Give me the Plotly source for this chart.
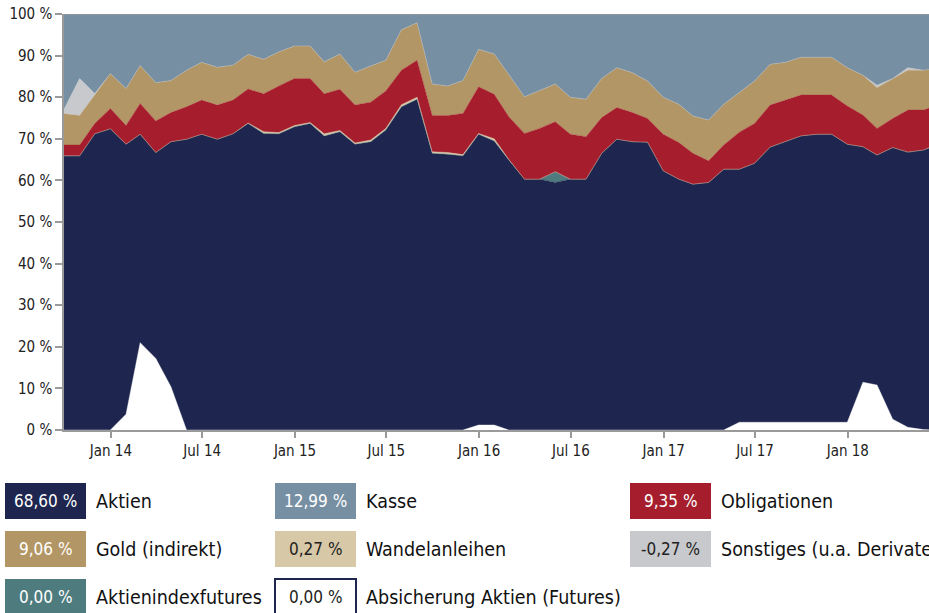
import plotly.graph_objects as go
import pandas as pd

# ---------------- data (shares in %) ----------------
dates = pd.date_range("2013-09-30", periods=58, freq="ME")

aktien = [65.9, 65.9, 71.2, 72.4, 68.7, 71.1, 66.7, 69.3, 69.9, 71.1,
          69.9, 71.2, 73.7, 71.3, 71.2, 72.9, 73.7, 70.7, 71.7, 68.7,
          69.3, 72.1, 77.7, 79.5, 66.5, 66.3, 65.9, 71.1, 69.5, 64.9,
          60.3, 60.3, 59.5, 60.3, 60.3, 66.5, 69.9, 69.3, 69.2, 62.3,
          60.3, 59.1, 59.5, 62.7, 62.7, 64.1, 68.0, 69.3, 70.7, 71.1,
          71.1, 68.7, 68.1, 66.1, 67.9, 66.8, 67.3, 68.6]
aktienindexfutures = [0] * 32 + [2.6] + [0] * 25
wandelanleihen = [0, 0, 0, 0, 0, 0, 0, 0, 0, 0,
                  0, 0, 0.1, 0.4, 0.3, 0.3, 0.2, 0.5, 0.3, 0.3,
                  0.4, 0.4, 0.5, 0.5, 0.4, 0.4, 0.3, 0.2, 0.5, 0.1,
                  0, 0, 0, 0, 0, 0, 0, 0, 0, 0,
                  0, 0, 0, 0, 0, 0, 0, 0, 0, 0,
                  0, 0, 0, 0, 0, 0, 0, 0.27]
obligationen = [2.6, 2.6, 2.5, 4.9, 4.5, 7.4, 7.6, 7.0, 7.8, 8.2,
                8.2, 8.1, 8.2, 9.1, 11.2, 11.3, 10.6, 9.6, 9.9, 9.1,
                9.1, 9.0, 8.3, 8.9, 8.7, 8.9, 9.9, 11.2, 10.7, 10.3,
                11.0, 12.2, 12.0, 10.8, 10.2, 8.6, 7.6, 7.0, 5.7, 8.8,
                8.8, 7.4, 5.2, 5.8, 8.9, 9.6, 10.1, 10.0, 9.8, 9.4,
                9.4, 9.2, 7.6, 6.4, 7.0, 10.1, 9.6, 9.35]
gold = [7.5, 7.1, 6.8, 8.4, 8.9, 9.1, 9.2, 7.7, 8.8, 9.1,
        9.1, 8.4, 8.3, 8.3, 8.2, 7.8, 7.8, 7.7, 8.5, 7.9,
        8.7, 7.4, 9.7, 9.0, 7.6, 7.1, 7.9, 9.0, 9.7, 10.0,
        8.8, 9.1, 9.1, 8.9, 9.0, 9.4, 9.6, 9.6, 9.0, 8.9,
        9.2, 9.0, 9.8, 9.8, 9.6, 10.2, 9.8, 9.1, 9.1, 9.1,
        9.1, 9.2, 9.6, 9.8, 9.6, 9.6, 9.6, 9.06]
sonstiges = [1.1, 8.9, 0.4] + [0] * 50 + [0.6, 0, 0.6, 0, -0.27]
kasse = [22.9, 15.5, 19.1, 14.3, 17.9, 12.4, 16.5, 16.0, 13.5, 11.6,
         12.8, 12.3, 9.7, 10.9, 9.1, 7.7, 7.7, 11.5, 9.6, 14.0,
         12.5, 11.1, 3.8, 2.1, 16.8, 17.3, 16.0, 8.5, 9.6, 14.7,
         19.9, 18.4, 16.8, 20.0, 20.5, 15.5, 12.9, 14.1, 16.1, 20.0,
         21.7, 24.5, 25.5, 21.7, 18.8, 16.1, 12.1, 11.6, 10.4, 10.4,
         10.4, 12.9, 14.7, 17.1, 15.5, 12.9, 13.5, 12.99]
absicherung = [0, 0, 0, 0, 3.8, 21.0, 17.2, 10.4, 0, 0,
               0, 0, 0, 0, 0, 0, 0, 0, 0, 0,
               0, 0, 0, 0, 0, 0, 0, 1.2, 1.2, 0,
               0, 0, 0, 0, 0, 0, 0, 0, 0, 0,
               0, 0, 0, 0, 1.85, 1.85, 1.85, 1.85, 1.85, 1.85,
               1.85, 1.85, 11.5, 10.8, 2.6, 0.65, 0.1, 0]

legend_names = ["Aktien", "Kasse", "Obligationen",
                "Gold (indirekt)", "Wandelanleihen", "Sonstiges (u.a. Derivate)",
                "Aktienindexfutures", "Absicherung Aktien (Futures)"]
legend_values = ["68,60 %", "12,99 %", "9,35 %",
                 "9,06 %", "0,27 %", "-0,27 %",
                 "0,00 %", "0,00 %"]

tick_dates = ["2014-01-01", "2014-07-01", "2015-01-01", "2015-07-01", "2016-01-01",
              "2016-07-01", "2017-01-01", "2017-07-01", "2018-01-01"]
tick_labels = ["Jan 14", "Jul 14", "Jan 15", "Jul 15", "Jan 16",
               "Jul 16", "Jan 17", "Jul 17", "Jan 18"]
y_ticks = list(range(0, 101, 10))
y_labels = [f"{v} %" for v in y_ticks]

# ---------------- styles ----------------
C_NAVY = "#1e264f"
C_KASSE = "#778fa3"
C_RED = "#a61e2e"
C_GOLD = "#b39665"
C_CREAM = "#d7c8a8"
C_GREY = "#c8c9cc"
C_TEAL = "#4e7b7e"
FONT = "DejaVu Sans Condensed, Liberation Sans Narrow, Arial Narrow, sans-serif"

fig = go.Figure()
stack = [("Aktien", aktien, C_NAVY),
         ("Aktienindexfutures", aktienindexfutures, C_TEAL),
         ("Wandelanleihen", wandelanleihen, C_CREAM),
         ("Obligationen", obligationen, C_RED),
         ("Gold (indirekt)", gold, C_GOLD),
         ("Sonstiges (u.a. Derivate)", sonstiges, C_GREY),
         ("Kasse", kasse, C_KASSE)]
for name, vals, col in stack:
    fig.add_trace(go.Scatter(x=dates, y=vals, name=name, mode="lines",
                             stackgroup="one", line=dict(width=0.4, color=col),
                             fillcolor=col, hoverinfo="skip"))
fig.add_trace(go.Scatter(x=dates, y=absicherung, name="Absicherung Aktien (Futures)",
                         mode="lines", fill="tozeroy", fillcolor="white",
                         line=dict(width=0.4, color="white"), hoverinfo="skip"))

W, H = 929, 613
L, R, T, B = 64, 0, 14, 183
pw, ph = W - L - R, H - T - B


def px(x):
    return (x - L) / pw


def py(y):
    return (H - B - y) / ph


shapes = [dict(type="line", xref="paper", yref="y", x0=0, x1=1, y0=100, y1=100,
               line=dict(color="#9a9a9a", width=1.5), layer="above")]
annotations = []
box_cols = [5, 275, 630]
box_rows = [483, 531, 579]
box_fill = [C_NAVY, C_KASSE, C_RED, C_GOLD, C_CREAM, C_GREY, C_TEAL, "white"]
text_col = ["white", "white", "white", "white", "#222", "#222", "white", "#222"]
for i, (nm, val) in enumerate(zip(legend_names, legend_values)):
    r, c = divmod(i, 3)
    x0 = box_cols[c]
    y0 = box_rows[r]
    x1, y1 = x0 + 81, y0 + 36
    border = dict(width=0) if i != 7 else dict(color=C_NAVY, width=2)
    shapes.append(dict(type="rect", xref="paper", yref="paper",
                       x0=px(x0), x1=px(x1), y0=py(y0), y1=py(y1),
                       fillcolor=box_fill[i], line=border, layer="above"))
    annotations.append(dict(xref="paper", yref="paper", x=px((x0 + x1) / 2), y=py((y0 + y1) / 2),
                            text=val, showarrow=False, xanchor="center", yanchor="middle",
                            font=dict(family=FONT, size=17, color=text_col[i])))
    annotations.append(dict(xref="paper", yref="paper", x=px(x1 + 8), y=py((y0 + y1) / 2),
                            text=nm, showarrow=False, xanchor="left", yanchor="middle",
                            font=dict(family=FONT, size=19.5, color="#111")))

fig.update_layout(
    width=W, height=H,
    margin=dict(l=L, r=R, t=T, b=B),
    paper_bgcolor="white", plot_bgcolor="white",
    showlegend=False,
    font=dict(family=FONT, size=15, color="#222"),
    shapes=shapes, annotations=annotations,
    xaxis=dict(type="date", range=["2013-09-30", "2018-06-11"],
               tickvals=tick_dates, ticktext=tick_labels,
               ticks="outside", ticklen=6, tickcolor="#9a9a9a", tickwidth=1.5,
               showline=True, linecolor="#9a9a9a", linewidth=1.5,
               showgrid=False, zeroline=False, tickfont=dict(size=15)),
    yaxis=dict(range=[0, 100], tickvals=y_ticks, ticktext=y_labels,
               ticks="outside", ticklen=7, tickcolor="#9a9a9a", tickwidth=1.5,
               showline=True, linecolor="#9a9a9a", linewidth=1.5,
               showgrid=False, zeroline=False, tickfont=dict(size=15)),
)

fig.write_html("out.html", config={"displayModeBar": False},
               post_script="document.body.style.margin='0';document.body.style.overflow='hidden';")
